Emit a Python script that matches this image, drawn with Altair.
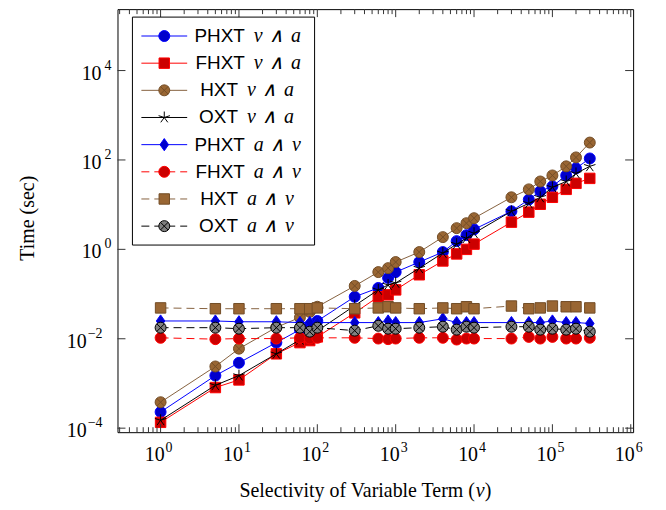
import math
import altair as alt
import pandas as pd

# ---------------- data ----------------
X = [1, 5, 10, 30, 60, 80, 100, 300, 600, 800, 1000, 2000, 4000, 6000, 8000,
     10000, 30000, 50000, 70000, 100000, 150000, 200000, 300000]

PHXT_VA = [2.3e-4, 1.5e-3, 2.9e-3, 8.2e-3, 1.6e-2, 2.0e-2, 2.5e-2, 0.087, 0.137, 0.23, 0.31,
           0.52, 0.87, 1.53, 2.08, 2.8, 7.1, 13, 20, 25.7, 45, 65, 108]
FHXT_VA = [1.35e-4, 8.1e-4, 1.2e-3, 4.6e-3, 8.2e-3, 9.1e-3, 1.1e-2, 0.038, 0.087, 0.096, 0.124,
           0.27, 0.55, 0.79, 1.0, 1.31, 4.06, 6.8, 10.2, 14.6, 22, 30, 38.7]
HXT_VA = [3.8e-4, 2.4e-3, 6.0e-3, 1.8e-2, 3.0e-2, 4.0e-2, 5.2e-2, 0.152, 0.31, 0.38, 0.52,
          0.87, 1.88, 2.98, 3.85, 4.98, 14.6, 22, 33, 45, 72, 114, 245]
OXT_VA = [1.5e-4, 9.1e-4, 1.5e-3, 4.6e-3, 9.5e-3, 1.2e-2, 1.5e-2, 0.055, 0.124, 0.16, 0.177,
          0.38, 0.83, 1.31, 1.78, 2.3, 7.1, 10.7, 14.6, 24.5, 33, 50, 72]
PHXT_AV = [0.025, 0.025, 0.024, 0.024, 0.023, 0.023, 0.023, 0.023, 0.023, 0.025, 0.023, 0.023,
           0.028, 0.023, 0.023, 0.023, 0.023, 0.023, 0.023, 0.025, 0.023, 0.023, 0.022]
FHXT_AV = [0.0105, 0.0098, 0.0101, 0.0101, 0.0105, 0.0101, 0.0105, 0.0105, 0.0101, 0.0098,
           0.0101, 0.0105, 0.0105, 0.0096, 0.0101, 0.0101, 0.0101, 0.011, 0.0101, 0.011,
           0.0101, 0.0101, 0.0105]
HXT_AV = [0.049, 0.047, 0.047, 0.047, 0.047, 0.047, 0.049, 0.047, 0.049, 0.052, 0.049, 0.047,
          0.049, 0.047, 0.052, 0.047, 0.054, 0.047, 0.049, 0.054, 0.052, 0.052, 0.049]
OXT_AV = [0.0177, 0.0177, 0.0168, 0.0177, 0.0177, 0.0144, 0.0177, 0.0152, 0.0195, 0.0168,
          0.0168, 0.0177, 0.0186, 0.016, 0.0186, 0.0177, 0.0186, 0.0186, 0.016, 0.0168,
          0.016, 0.0168, 0.0144]

NAMES = ["PHXT", "FHXT", "HXT", "OXT", "PHXT", "FHXT", "HXT", "OXT"]
SP = "\u2004"
MATH = [f"v{SP}∧{SP}a"] * 4 + [f"a{SP}∧{SP}v"] * 4
VALUES = [PHXT_VA, FHXT_VA, HXT_VA, OXT_VA, PHXT_AV, FHXT_AV, HXT_AV, OXT_AV]

X_TICKS = [1, 10, 100, 1000, 10000, 100000, 1000000]
Y_TICKS = [1e-4, 1e-2, 1, 100, 10000]

# ---------------- style ----------------
W, H = 518, 425
XDOM = [10 ** -0.55, 10 ** 6.03]
YDOM = [10 ** -4.09, 10 ** 5.374]

STAR = "M0,0L0,-1M0,0L-0.951,-0.309M0,0L-0.588,0.809M0,0L0.588,0.809M0,0L0.951,-0.309"
XPATH = "M-0.707,-0.707L0.707,0.707M-0.707,0.707L0.707,-0.707"
DIAMOND = "M0,-1L0.7,0L0,1L-0.7,0Z"
BROWN_LINE = "#86623f"
BROWN_DARK = "#734d26"
BROWN_FILL = "#996633"

STYLES = [
    dict(line="#0000ff", dash=None, shape="circle", size=121, fill="#0000cc", stroke="#0000ff", over=None),
    dict(line="#ff0000", dash=None, shape="square", size=110, fill="#cc0000", stroke="#ff0000", over=None),
    dict(line=BROWN_LINE, dash=None, shape="circle", size=121, fill=BROWN_FILL, stroke=BROWN_DARK, over=BROWN_DARK),
    dict(line="#000000", dash=None, shape=STAR, size=144, fill=None, stroke="#000000", over=None),
    dict(line="#0000ff", dash=None, shape=DIAMOND, size=150, fill="#0000cc", stroke="#0000ff", over=None),
    dict(line="#ff0000", dash=[8, 5], shape="circle", size=121, fill="#cc0000", stroke="#ff0000", over=None),
    dict(line=BROWN_LINE, dash=[8, 5], shape="square", size=110, fill=BROWN_FILL, stroke=BROWN_DARK, over=None),
    dict(line="#000000", dash=[8, 5], shape="circle", size=121, fill="#808080", stroke="#000000", over="#000000"),
]

SERIF = "Liberation Serif"
SANS = "Liberation Sans"


def exp_str(v):
    return str(round(math.log10(v))).replace("-", "\u2212")


x_enc = alt.X("x:Q", scale=alt.Scale(type="log", domain=XDOM, nice=False, zero=False), axis=None)
y_enc = alt.Y("y:Q", scale=alt.Scale(type="log", domain=YDOM, nice=False, zero=False), axis=None)


def marker_marks(base, st):
    out = []
    if st["fill"] is None:
        out.append(base.mark_point(shape=st["shape"], size=st["size"], filled=False,
                                   stroke=st["stroke"], strokeWidth=1, opacity=1))
    else:
        out.append(base.mark_point(shape=st["shape"], size=st["size"], filled=True,
                                   fill=st["fill"], stroke=st["stroke"], strokeWidth=1,
                                   opacity=1, fillOpacity=1))
    if st["over"] is not None:
        out.append(base.mark_point(shape=XPATH, size=st["size"], filled=False,
                                   stroke=st["over"], strokeWidth=1, opacity=1))
    return out


# ---------------- data layers ----------------
data_layers = []
for vals, st in zip(VALUES, STYLES):
    df = pd.DataFrame({"x": X, "y": vals})
    base = alt.Chart(df).encode(x=x_enc, y=y_enc)
    line_kw = dict(color=st["line"], strokeWidth=1)
    if st["dash"]:
        line_kw["strokeDash"] = st["dash"]
    data_layers.append(base.mark_line(**line_kw))
    data_layers.extend(marker_marks(base, st))

# inward ticks
x_minor = [k * 10 ** d for d in range(-1, 7) for k in range(2, 10) if XDOM[0] <= k * 10 ** d <= XDOM[1]]
xmaj = pd.DataFrame({"x": X_TICKS, "base": "10", "exp": [exp_str(v) for v in X_TICKS]})
xmin = pd.DataFrame({"x": x_minor})
ymaj = pd.DataFrame({"y": Y_TICKS, "base": "10", "exp": [exp_str(v) for v in Y_TICKS]})
TICK = dict(color="#333333", strokeWidth=1)
data_layers += [
    alt.Chart(xmaj).mark_rule(**TICK).encode(x=x_enc, y=alt.value(H - 8), y2=alt.value(H)),
    alt.Chart(xmaj).mark_rule(**TICK).encode(x=x_enc, y=alt.value(0), y2=alt.value(8)),
    alt.Chart(xmin).mark_rule(**TICK).encode(x=x_enc, y=alt.value(H - 5), y2=alt.value(H)),
    alt.Chart(xmin).mark_rule(**TICK).encode(x=x_enc, y=alt.value(0), y2=alt.value(5)),
    alt.Chart(ymaj).mark_rule(**TICK).encode(y=y_enc, x=alt.value(0), x2=alt.value(8)),
    alt.Chart(ymaj).mark_rule(**TICK).encode(y=y_enc, x=alt.value(W - 8), x2=alt.value(W)),
]

# tick labels: "10" with a raised exponent
BASE_T = dict(font=SERIF, fontSize=20, color="black", baseline="alphabetic")
EXP_T = dict(font=SERIF, fontSize=14, color="black", baseline="alphabetic")
data_layers += [
    alt.Chart(xmaj).mark_text(align="right", dx=4, **BASE_T)
       .encode(x=x_enc, y=alt.value(H + 29), text="base:N"),
    alt.Chart(xmaj).mark_text(align="left", dx=5, **EXP_T)
       .encode(x=x_enc, y=alt.value(H + 20), text="exp:N"),
]
for cond, xb, xe in [("datum.y >= 1", -16, -13), ("datum.y < 1", -31, -30)]:
    yl = alt.Chart(ymaj).transform_filter(cond)
    data_layers += [
        yl.mark_text(align="right", dy=9, **BASE_T).encode(y=y_enc, x=alt.value(xb), text="base:N"),
        yl.mark_text(align="left", dy=-1, **EXP_T).encode(y=y_enc, x=alt.value(xe), text="exp:N"),
    ]
data_chart = alt.layer(*data_layers)

# ---------------- legend + titles ----------------
leg = pd.DataFrame({"row": list(range(8)), "name": NAMES, "math": MATH})
ly = alt.Y("row:Q", scale=alt.Scale(domain=[0, 7], range=[27, 218], zero=False, nice=False), axis=None)
one = pd.DataFrame({"k": [0]})

leg_layers = [
    alt.Chart(one).mark_rect(fill="white", stroke="black", strokeWidth=1).encode(
        x=alt.value(15), x2=alt.value(198), y=alt.value(8), y2=alt.value(237))
]
for i, st in enumerate(STYLES):
    base = alt.Chart(leg.iloc[[i]]).encode(y=ly)
    rule_kw = dict(color=st["line"], strokeWidth=1)
    if st["dash"]:
        rule_kw["strokeDash"] = st["dash"]
    leg_layers.append(base.mark_rule(**rule_kw).encode(x=alt.value(24), x2=alt.value(70)))
    leg_layers.extend([m.encode(x=alt.value(47)) for m in marker_marks(base, st)])

txt = alt.Chart(leg).encode(y=ly)
for n, (xn, xm) in {4: (128, 137), 3: (121, 130)}.items():
    t = txt.transform_filter(f"length(datum.name) == {n}")
    leg_layers.append(t.mark_text(align="right", baseline="alphabetic", dy=6, font=SANS,
                                  fontSize=19, color="black").encode(x=alt.value(xn), text="name:N"))
    leg_layers.append(t.mark_text(align="left", baseline="alphabetic", dy=6, font=SERIF,
                                  fontStyle="italic", fontSize=20, color="black")
                      .encode(x=alt.value(xm), text="math:N"))

tb = alt.Chart(one)
leg_layers += [
    tb.mark_text(angle=270, font=SERIF, fontSize=20, color="black", baseline="middle", align="center")
      .encode(x=alt.value(-90), y=alt.value(210), text=alt.value("Time (sec)")),
    tb.mark_text(font=SERIF, fontSize=20, color="black", baseline="middle", align="right")
      .encode(x=alt.value(359), y=alt.value(484), text=alt.value("Selectivity of Variable Term (")),
    tb.mark_text(font=SERIF, fontSize=20, fontStyle="italic", color="black", baseline="middle", align="left")
      .encode(x=alt.value(360), y=alt.value(484), text=alt.value("v")),
    tb.mark_text(font=SERIF, fontSize=20, color="black", baseline="middle", align="left")
      .encode(x=alt.value(369), y=alt.value(484), text=alt.value(")")),
]
legend_chart = alt.layer(*leg_layers)

chart = (
    alt.layer(data_chart, legend_chart)
    .resolve_scale(y="independent")
    .properties(width=W, height=H,
                padding={"left": 110, "top": 0, "right": 25, "bottom": 70},
                autosize=alt.AutoSizeParams(type="none"),
                background="white")
    .configure_view(stroke="black", strokeWidth=1)
)

chart.save("out.html", embed_options={"renderer": "svg", "actions": False})
